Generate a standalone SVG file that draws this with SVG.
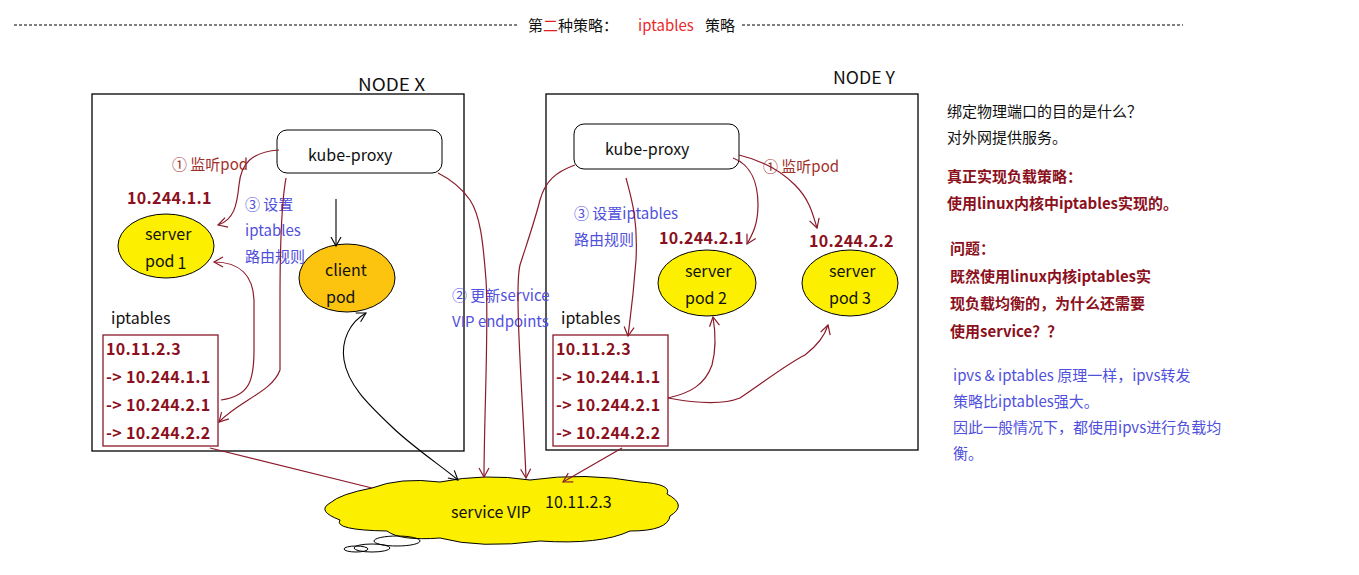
<svg xmlns="http://www.w3.org/2000/svg" width="1359" height="575" viewBox="0 0 1359 575">
<defs>
<style>
text{font-family:"Noto Sans CJK SC","Noto Sans",sans-serif;font-size:15px;fill:#111}
.lbl{font-size:16px}
.node{font-size:17px}
.ip{font-size:16px;font-weight:bold;fill:#8b1020;letter-spacing:0.3px}
.blue{fill:#5050dc;font-size:15px}
.red1{fill:#a0302a;font-size:15px}
.rt{font-size:15px}
.rtb{font-size:15px;font-weight:bold;fill:#8b1020}
.box{fill:none;stroke:#000;stroke-width:1.3}
.tbl{fill:none;stroke:#8b1a2a;stroke-width:1.3}
.pod{fill:#fcf000;stroke:#000;stroke-width:1}
.cpod{fill:#fcc40f;stroke:#000;stroke-width:1}
.kp{fill:#fff;stroke:#000;stroke-width:1}
.c{fill:none;stroke:#8b1a2a;stroke-width:1.2}
.k{fill:none;stroke:#000;stroke-width:1.1}
.dash{stroke:#000;stroke-width:1.2;stroke-dasharray:3 2}
</style>
<marker id="ar" markerWidth="12" markerHeight="12" refX="10" refY="6" orient="auto" markerUnits="userSpaceOnUse"><path d="M1,1 L10,6 L1,11" fill="none" stroke="#8b1a2a" stroke-width="1.2"/></marker>
<marker id="ak" markerWidth="12" markerHeight="12" refX="10" refY="6" orient="auto-start-reverse" markerUnits="userSpaceOnUse"><path d="M1,1 L10,6 L1,11" fill="none" stroke="#000" stroke-width="1.1"/></marker>
</defs>
<rect width="1359" height="575" fill="#fff"/>

<g id="title">
<line class="dash" x1="14" y1="25" x2="518" y2="25"/>
<text x="528" y="31">第<tspan fill="#e02020">二</tspan>种策略：</text>
<text x="638" y="31" style="fill:#e82a2a">iptables</text>
<text x="705" y="31">策略</text>
<line class="dash" x1="742" y1="25" x2="1183" y2="25"/>
</g>

<g id="nodeX">
<rect class="box" x="92" y="94" width="372" height="357"/>
<text class="node" x="358" y="91" textLength="67" lengthAdjust="spacingAndGlyphs">NODE  X</text>
</g>
<g id="nodeY">
<rect class="box" x="546" y="94" width="372" height="356"/>
<text class="node" x="833" y="84" textLength="62" lengthAdjust="spacingAndGlyphs">NODE Y</text>
</g>

<g id="kubeproxyX">
<rect class="kp" x="277" y="130" width="165" height="43" rx="10" ry="10"/>
<text class="lbl" x="308" y="161">kube-proxy</text>
</g>
<g id="kubeproxyY">
<rect class="kp" x="574" y="124" width="165" height="45" rx="10" ry="10"/>
<text class="lbl" x="605" y="155">kube-proxy</text>
</g>

<g id="serverpod1">
<text class="ip" x="127" y="204">10.244.1.1</text>
<ellipse class="pod" cx="166" cy="246" rx="48" ry="32"/>
<text class="lbl" x="145" y="240">server</text>
<text class="lbl" x="145" y="267">pod<tspan dx="3" dy="2">1</tspan></text>
</g>
<g id="clientpod">
<ellipse class="cpod" cx="347" cy="278" rx="48" ry="34"/>
<text class="lbl" x="325" y="276">client</text>
<text class="lbl" x="326" y="303">pod</text>
</g>
<g id="serverpod2">
<text class="ip" x="659" y="244">10.244.2.1</text>
<ellipse class="pod" cx="707" cy="283" rx="49" ry="33"/>
<text class="lbl" x="685" y="277">server</text>
<text class="lbl" x="685" y="304">pod 2</text>
</g>
<g id="serverpod3">
<text class="ip" x="809" y="247">10.244.2.2</text>
<ellipse class="pod" cx="850" cy="283" rx="48" ry="33"/>
<text class="lbl" x="829" y="277">server</text>
<text class="lbl" x="829" y="304">pod 3</text>
</g>

<g id="iptablesX">
<text class="lbl" x="111" y="324">iptables</text>
<rect class="tbl" x="103" y="335" width="115" height="111"/>
<text class="ip" x="106" y="355">10.11.2.3</text>
<text class="ip" x="106" y="383">-&gt; 10.244.1.1</text>
<text class="ip" x="106" y="411">-&gt; 10.244.2.1</text>
<text class="ip" x="106" y="439">-&gt; 10.244.2.2</text>
</g>
<g id="iptablesY">
<text class="lbl" x="561" y="324">iptables</text>
<rect class="tbl" x="553" y="335" width="115" height="111"/>
<text class="ip" x="556" y="355">10.11.2.3</text>
<text class="ip" x="556" y="383">-&gt; 10.244.1.1</text>
<text class="ip" x="556" y="411">-&gt; 10.244.2.1</text>
<text class="ip" x="556" y="439">-&gt; 10.244.2.2</text>
</g>

<g id="serviceVIP">
<path class="pod" d="M372,488 Q400,477 440,482 Q485,473 530,480 Q585,472 640,482 Q672,484 667,494 Q688,505 670,516 Q668,531 630,531 Q600,545 540,541 Q480,549 440,538 Q400,541 387,531 Q333,530 340,520 Q316,511 330,503 Q340,494 372,488 Z"/>
<ellipse fill="none" stroke="#000" stroke-width="1" cx="397" cy="541" rx="23" ry="5"/>
<ellipse fill="none" stroke="#000" stroke-width="1" cx="372" cy="548" rx="18" ry="4"/>
<ellipse fill="none" stroke="#000" stroke-width="1" cx="356" cy="549" rx="12" ry="3"/>
<text class="lbl" x="451" y="518">service VIP</text>
<text class="lbl" x="545" y="508">10.11.2.3</text>
</g>

<g id="labels">
<text class="red1" x="172" y="170">① 监听pod</text>
<text class="blue" x="245" y="210">③ 设置</text>
<text class="blue" x="245" y="236">iptables</text>
<text class="blue" x="245" y="262">路由规则</text>
<text class="blue" x="452" y="301">② 更新service</text>
<text class="blue" x="452" y="327">VIP endpoints</text>
<text class="blue" x="574" y="219">③ 设置iptables</text>
<text class="blue" x="574" y="245">路由规则</text>
<text class="red1" x="763" y="172">① 监听pod</text>
</g>

<g id="notes">
<text class="rt" x="947" y="117">绑定物理端口的目的是什么？</text>
<text class="rt" x="947" y="143">对外网提供服务。</text>
<text class="rtb" x="947" y="182">真正实现负载策略：</text>
<text class="rtb" x="947" y="209">使用linux内核中iptables实现的。</text>
<text class="rtb" x="950" y="254">问题：</text>
<text class="rtb" x="950" y="282">既然使用linux内核iptables实</text>
<text class="rtb" x="950" y="309">现负载均衡的，为什么还需要</text>
<text class="rtb" x="950" y="337">使用service？？</text>
<text class="blue" x="953" y="381">ipvs &amp; iptables 原理一样，ipvs转发</text>
<text class="blue" x="953" y="407">策略比iptables强大。</text>
<text class="blue" x="953" y="433">因此一般情况下，都使用ipvs进行负载均</text>
<text class="blue" x="953" y="459">衡。</text>
</g>

<g id="connectors">
<path class="c" d="M279,150 C252,152 241,163 239,185 C237,205 234,220 218,225" marker-end="url(#ar)"/>
<path class="c" d="M286,178 C281,205 280,260 280,300 L280,370 C272,392 240,400 219,422" marker-end="url(#ar)"/>
<path class="c" d="M221,400 C250,396 254,380 254,350 L254,300 C253,276 240,262 214,262" marker-end="url(#ar)"/>
<path class="c" d="M438,173 C452,180 463,190 470,200 C480,215 483,240 486,280 C489,320 484,420 484,477" marker-end="url(#ar)"/>
<path class="c" d="M575,165 C555,172 545,182 540,200 C535,220 528,240 520,265 C514,290 523,400 526,478" marker-end="url(#ar)"/>
<path class="c" d="M626,178 C632,200 638,220 636,260 C633,300 630,320 628,336" marker-end="url(#ar)"/>
<path class="c" d="M733,158 C752,165 758,185 758,205 C758,225 752,235 747,244" marker-end="url(#ar)"/>
<path class="c" d="M739,155 C760,160 780,170 795,185 C810,200 813,215 817,228" marker-end="url(#ar)"/>
<path class="c" d="M668,398 C690,393 705,385 712,365 C716,350 716,335 713,317" marker-end="url(#ar)"/>
<path class="c" d="M668,398 C700,404 725,404 740,398 C760,385 785,365 805,355 C818,345 825,335 828,325" marker-end="url(#ar)"/>
<path class="c" d="M210,448 L372,488"/>
<path class="c" d="M622,448 L563,482" marker-end="url(#ar)"/>
<path class="k" d="M336,199 L336,246" marker-end="url(#ak)"/>
<path class="k" d="M458,480 C440,465 410,445 390,425 C368,404 348,385 344,360 C341,340 350,322 366,313" marker-start="url(#ak)" marker-end="url(#ak)"/>
</g>
</svg>
